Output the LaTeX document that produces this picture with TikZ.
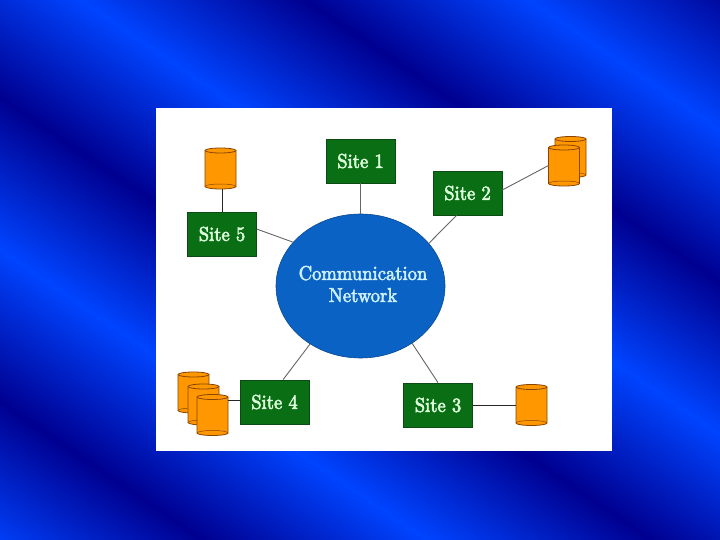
\documentclass[tikz,border=0pt]{standalone}
\usepackage{fontspec}
\newfontfamily\diagfont{Latin Modern Roman}[OpticalSize=10,FakeBold=3]
\definecolor{bgdark}{HTML}{000090}
\definecolor{bgbright}{HTML}{0044FF}
\definecolor{bgmid}{HTML}{0030E0}
\definecolor{sitegreen}{HTML}{0A6E14}
\definecolor{siteedge}{HTML}{0C4A14}
\definecolor{netblue}{HTML}{0A62C4}
\definecolor{netedge}{HTML}{0A4A90}
\definecolor{cylfill}{HTML}{FF9800}
\definecolor{cyledge}{HTML}{8A4400}
\definecolor{sitetext}{HTML}{DCFFDC}
\definecolor{nettext}{HTML}{CCF0FF}
\usetikzlibrary{shapes.geometric}
\tikzset{
  sitebox/.style={draw=siteedge,line width=0.8pt,fill=sitegreen,minimum width=69pt,minimum height=44pt,inner sep=0pt,text=sitetext},
  netnode/.style={ellipse,draw=netedge,line width=0.6pt,fill=netblue,minimum width=169pt,minimum height=144pt,inner sep=0pt},
  nettextnode/.style={inner sep=0pt,text=nettext,align=center,font=\fontsize{20}{22}\selectfont},
  dbcyl/.style={minimum width=31pt,minimum height=41pt,inner sep=0pt,outer sep=0pt},
  cylline/.style={draw=cyledge,line width=0.8pt},
  softlink/.style={draw=black!60,line width=0.9pt},
  hardlink/.style={draw=black!85,line width=0.9pt}
}
\newcommand{\narrowtext}[1]{\scalebox{0.93}[1]{\diagfont\fontsize{20}{22}\selectfont #1}}
\newcommand{\dbcylinder}[3]{%
  \node[dbcyl] (#1) at (#2,#3) {};
  \path[cylline,fill=cylfill] ([yshift=-2.5pt]#1.north west) -- ([yshift=2.5pt]#1.south west)
    arc[start angle=180,end angle=360,x radius=15.5pt,y radius=2.5pt]
    -- ([yshift=-2.5pt]#1.north east)
    arc[start angle=0,end angle=180,x radius=15.5pt,y radius=2.5pt] -- cycle;
  \draw[cylline] ([yshift=-2.5pt]#1.north west) arc[start angle=180,end angle=360,x radius=15.5pt,y radius=2.5pt];
  \draw[cylline,line width=0.5pt] ([yshift=2.5pt]#1.south west) arc[start angle=180,end angle=0,x radius=15.5pt,y radius=2.5pt];
}
\begin{document}
\begin{tikzpicture}[x=1pt,y=-1pt]
\useasboundingbox (0,0) rectangle (720,540);
\begin{scope}
\clip (0,0) rectangle (720,540);
\fill[bgbright] (0,0) rectangle (720,540);
\begin{scope}[transform canvas={shift={(0,97)},rotate=-34.2}]
\foreach \k in {-4,-2,0,2}{
  \path[top color=bgdark,middle color=bgmid,bottom color=bgbright,draw=none] (-400,{\k*126}) rectangle (1200,{(\k+1)*126+0.5});
  \path[top color=bgbright,middle color=bgmid,bottom color=bgdark,draw=none] (-400,{(\k+1)*126}) rectangle (1200,{(\k+2)*126+0.5});
}
\end{scope}
\end{scope}
\fill[white] (156,108) rectangle (612,451);

\node[netnode] (net) at (360.5,286) {};
\node[nettextnode] (nettxt) at (363,284) {\narrowtext{Communication}\\\narrowtext{Network}};
\node[sitebox] (s1) at (360.5,161) {\narrowtext{Site 1}};
\node[sitebox] (s2) at (467.5,193) {\narrowtext{Site 2}};
\node[sitebox] (s3) at (438,405) {\narrowtext{Site 3}};
\node[sitebox] (s4) at (274.5,402) {\narrowtext{Site 4}};
\node[sitebox] (s5) at (222,234) {\narrowtext{Site 5}};

\dbcylinder{c5}{220.5}{168.5}
\dbcylinder{c2b}{570.5}{157}
\dbcylinder{c2a}{564}{165.5}
\dbcylinder{c41}{193.5}{392.5}
\dbcylinder{c42}{203.5}{404.5}
\dbcylinder{c43}{212.5}{415}
\dbcylinder{c3}{531.5}{405}

\draw[softlink] (s1.south) -- (net.90);
\draw[softlink] (s2.244) -- (net.32);
\draw[softlink] (s2.5) -- (c2a.west);
\draw[softlink] (s5.8) -- (net.147);
\draw[softlink] (s4.69) -- (net.229);
\draw[softlink] (s3.north) -- (net.312);
\draw[hardlink] (s5.north) -- (s5.north |- c5.south);
\draw[hardlink] (s3.east) -- (c3.west);
\coordinate (l4) at ([yshift=2pt]s4.west);
\draw[hardlink] (l4) -- (l4 -| c43.east);
\end{tikzpicture}
\end{document}
